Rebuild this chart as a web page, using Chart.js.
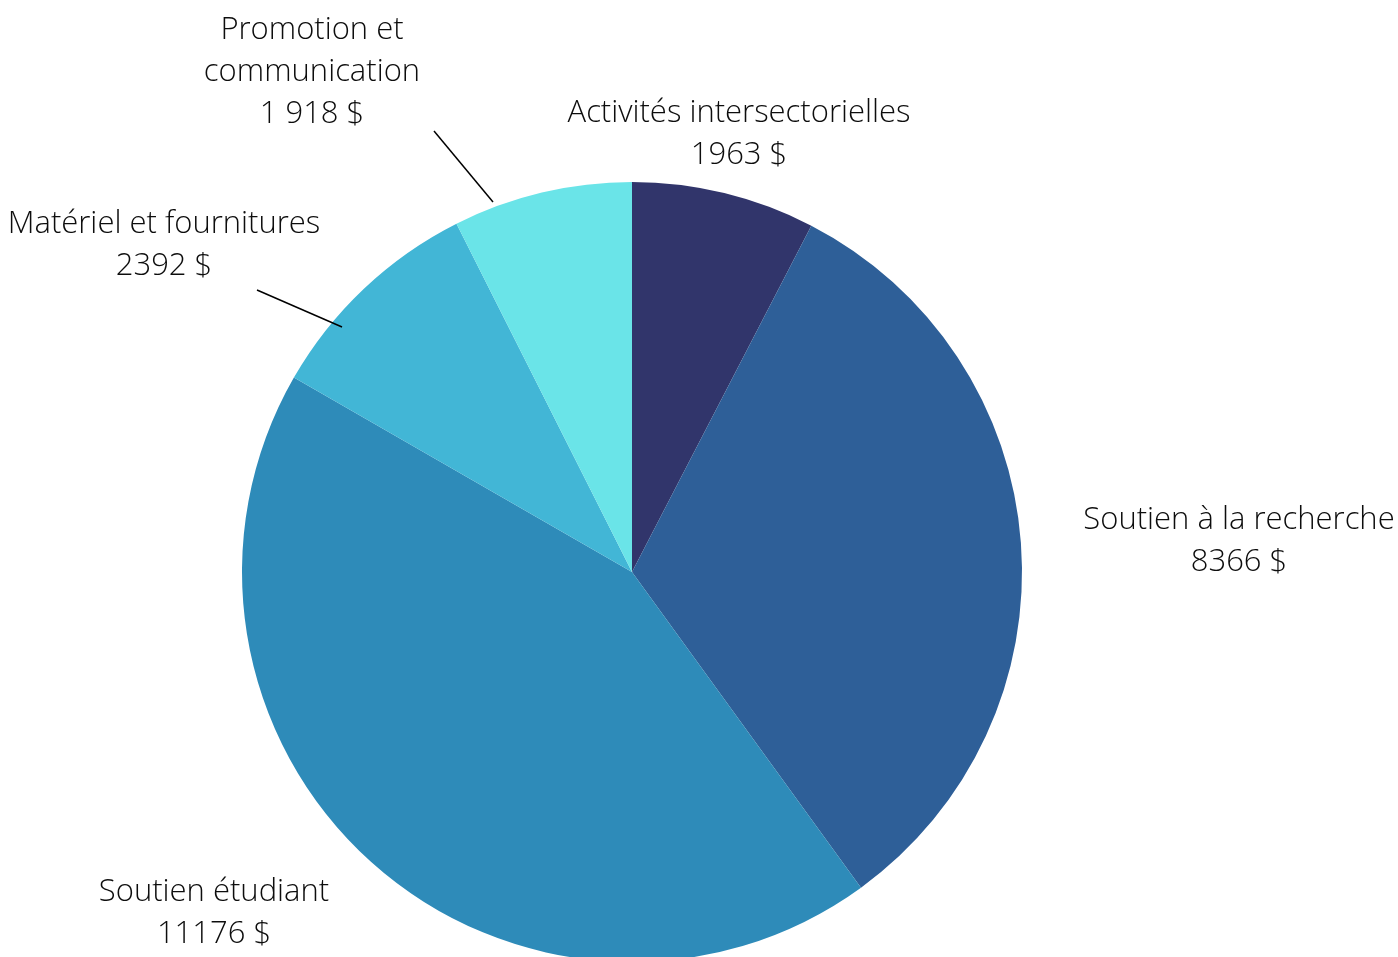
<!DOCTYPE html>
<html lang="fr">
<head>
<meta charset="utf-8">
<title>Répartition des dépenses</title>
<script src="https://cdn.jsdelivr.net/npm/chart.js@4/dist/chart.umd.min.js"></script>
<style>
	html, body { margin: 0; padding: 0; background: #fff; }
	#wrap { width: 1398px; height: 957px; position: relative; }
</style>
</head>
<body>
<div id="wrap"><canvas id="pieGraph" width="1398" height="957"></canvas></div>
<script>
// catégories et montants (en $), sens horaire depuis le haut
const categories = ['Activités intersectorielles', 'Soutien à la recherche', 'Soutien étudiant', 'Matériel et fournitures', 'Promotion et communication'];
const amounts = [1963, 8366, 11176, 2392, 1918];
// texte affiché pour chaque étiquette (lignes)
const labelLines = [
	['Activités intersectorielles', '1963 $'],
	['Soutien à la recherche', '8366 $'],
	['Soutien étudiant', '11176 $'],
	['Matériel et fournitures', '2392 $'],
	['Promotion et', 'communication', '1 918 $']
];
const sliceColors = ['#31356b', '#2e5f98', '#2e8bb9', '#42b6d6', '#6ae4e8'];

// placement des étiquettes : décalage du centre du texte par rapport au centre du cercle
const labelOffset = [[107, -438], [607, -31], [-418, 341], [-468, -327], [-320, -500]];
// traits de rappel (départ / arrivée, relatifs au centre) ; null = pas de trait
const leaderLines = [null, null, null, [[-375, -282], [-290, -245]], [[-198, -441], [-139, -370]]];

/**
 * étiquettes + traits de rappel
 */
const outLabels = {
	id: 'outLabels',
	afterDatasetsDraw(chart) {
		const ctx = chart.ctx;
		const arc = chart.getDatasetMeta(0).data[0];
		const cx = arc.x, cy = arc.y;
		ctx.save();
		ctx.strokeStyle = '#000';
		ctx.lineWidth = 1.5;
		leaderLines.forEach((l) => {
			if (!l) return;
			ctx.beginPath();
			ctx.moveTo(cx + l[0][0], cy + l[0][1]);
			ctx.lineTo(cx + l[1][0], cy + l[1][1]);
			ctx.stroke();
		});
		ctx.fillStyle = '#0d0d0d';
		ctx.font = '300 31px "Open Sans"';
		ctx.textAlign = 'center';
		ctx.textBaseline = 'middle';
		const lh = 42;
		labelLines.forEach((lines, i) => {
			const x = cx + labelOffset[i][0];
			const y0 = cy + labelOffset[i][1] - (lines.length - 1) * lh / 2;
			lines.forEach((t, j) => ctx.fillText(t, x, y0 + j * lh));
		});
		ctx.restore();
	}
};

let pieChart = new Chart(document.getElementById('pieGraph'), {
	type: 'pie',
	data: {
		labels: categories,
		datasets: [{
			data: amounts,
			backgroundColor: sliceColors,
			borderWidth: 0,
			radius: 390
		}]
	},
	options: {
		responsive: false,
		maintainAspectRatio: false,
		animation: { duration: 0 },
		layout: { padding: { top: 187, bottom: 0, left: 0, right: 134 } },
		plugins: {
			legend: { display: false },
			tooltip: { enabled: false }
		}
	},
	plugins: [outLabels]
});
</script>
</body>
</html>
